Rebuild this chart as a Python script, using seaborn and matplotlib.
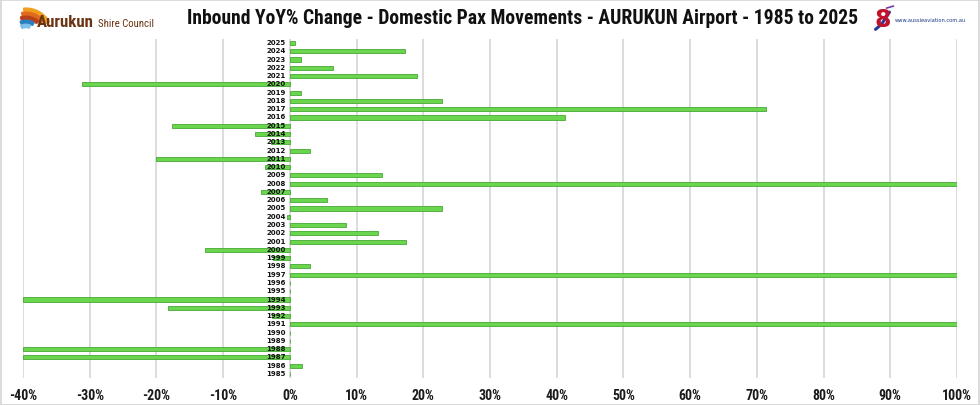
import matplotlib
matplotlib.use("Agg")
import matplotlib.pyplot as plt
import seaborn as sns
import pandas as pd
from matplotlib import font_manager
from matplotlib.patches import Rectangle, Wedge

years = [2025, 2024, 2023, 2022, 2021, 2020, 2019, 2018, 2017, 2016,
         2015, 2014, 2013, 2012, 2011, 2010, 2009, 2008, 2007, 2006,
         2005, 2004, 2003, 2002, 2001, 2000, 1999, 1998, 1997, 1996,
         1995, 1994, 1993, 1992, 1991, 1990, 1989, 1988, 1987, 1986, 1985]
yoy_pct = [0.7, 17.3, 1.7, 6.5, 19.0, -31.1, 1.7, 22.8, 71.3, 41.2,
           -17.7, -5.3, -2.8, 3.0, -20.0, -3.7, 13.8, 100.0, -4.4, 5.6,
           22.8, -0.5, 8.4, 13.2, 17.4, -12.7, -2.6, 3.0, 100.0, 0.0,
           0.0, -40.0, -18.3, -2.7, 100.0, 0.0, 0.0, -40.0, -40.0, 1.8, 0.0]
x_ticks = [-40, -30, -20, -10, 0, 10, 20, 30, 40, 50, 60, 70, 80, 90, 100]
title = "Inbound YoY% Change - Domestic Pax Movements - AURUKUN Airport - 1985 to 2025"

df = pd.DataFrame({"year": [str(y) for y in years], "pct": yoy_pct})

sns.set_theme(style="white")

names = {f.name for f in font_manager.fontManager.ttflist}
cond_names = [n for n in ['Liberation Sans Narrow', 'DejaVu Sans Condensed',
                          'Roboto Condensed', 'Open Sans Condensed'] if n in names]
cond_stretch = [f.name for f in font_manager.fontManager.ttflist
                if f.stretch in ('condensed', 'semi-condensed', 575, 625, 750, 700)]
if cond_names:
    COND = dict(family=[cond_names[0], 'DejaVu Sans'])
elif cond_stretch:
    COND = dict(family=[cond_stretch[0], 'DejaVu Sans'], fontstretch='condensed')
else:
    COND = dict(family=['Roboto', 'DejaVu Sans'])
plt.rcParams['font.family'] = ['DejaVu Sans']

fig = plt.figure(figsize=(9.8, 4.05), dpi=100)
fig.patch.set_facecolor("white")
ax = fig.add_axes([0.0235, 0.0664, 0.953, 0.8376])

sns.barplot(data=df, x="pct", y="year", order=df["year"].tolist(), orient="h",
            color="#6ad64e", width=0.5, saturation=1, ax=ax,
            edgecolor="#47a836", linewidth=0.6, zorder=3)

ax.set_xlim(-40, 100)
ax.set_ylim(len(years) - 0.5, -0.5)
ax.set_xticks(x_ticks)
ax.set_xticklabels([f"{t}%" for t in x_ticks])
for lab in ax.get_xticklabels():
    lab.set_fontsize(10)
    lab.set_fontweight("bold")
    lab.set_color("#1a1a1a")
    lab.set_family(COND['family'])
    if 'fontstretch' in COND:
        lab.set_fontstretch(COND['fontstretch'])
ax.set_yticks([])
ax.set_xlabel("")
ax.set_ylabel("")
ax.tick_params(axis="x", length=0, pad=8)
for s in ax.spines.values():
    s.set_visible(False)
ax.grid(axis="x", color="#dcdcdc", linewidth=1.4, zorder=0)
ax.set_axisbelow(True)

for i, y in enumerate(years):
    ax.text(-0.6, i, str(y), ha="right", va="center", fontsize=5.0,
            fontweight="bold", color="#111111", zorder=5,
            family=['DejaVu Sans'])

renderer = fig.canvas.get_renderer()


def fit_text(t, target_px):
    for _ in range(3):
        ext = t.get_window_extent(renderer=renderer)
        t.set_fontsize(t.get_fontsize() * target_px / ext.width)


# title
tt = fig.text(187 / 980, 0.955, title, ha="left", va="center", fontsize=15,
              fontweight="bold", color="#111111", **COND)
fit_text(tt, 676)

# left logo (text-based)
lax = fig.add_axes([0.0, 0.905, 0.17, 0.095])
lax.set_xlim(0, 166.6)
lax.set_ylim(0, 38)
lax.axis("off")
for k, c in enumerate(["#f0a020", "#e06a1a", "#b8401a", "#2a7fc0", "#7fbfe8"]):
    lax.add_patch(Wedge((26, 3), 27 - k * 4, 30 + k * 9, 95 + k * 6, width=3.2,
                        color=c))
t1 = lax.text(37, 16, "Aurukun", fontsize=12, fontweight="bold", color="#6b3412",
              va="center", ha="left", **COND)
fit_text(t1, 57)
t2 = lax.text(98, 14.5, "Shire Council", fontsize=8, color="#6b3412",
              va="center", ha="left", **COND)
fit_text(t2, 56)

# right logo (text + simple swoosh)
rax = fig.add_axes([0.875, 0.905, 0.125, 0.095])
rax.set_xlim(0, 122.5)
rax.set_ylim(0, 38)
rax.axis("off")
rax.text(25, 18, "8", fontsize=17, fontweight="bold", color="#c0122a",
         va="center", ha="center", family=['DejaVu Sans'])
rax.plot([18, 24, 32], [9, 14, 26], color="#2a3a9a", lw=2.2, solid_capstyle="round")
rax.plot([29, 36], [30, 32], color="#7a3aa0", lw=1.2)
t3 = rax.text(37, 18, "www.aussieaviation.com.au", fontsize=4.3, color="#1f3a8a",
              va="center", ha="left", family=['DejaVu Sans'])
fit_text(t3, 70)

# figure border
fig.patches.append(Rectangle((0.001, 0.001), 0.998, 0.998, transform=fig.transFigure,
                             fill=False, edgecolor="#d4d4d4", linewidth=1.2))

fig.savefig("out.png", dpi=100, facecolor="white")
